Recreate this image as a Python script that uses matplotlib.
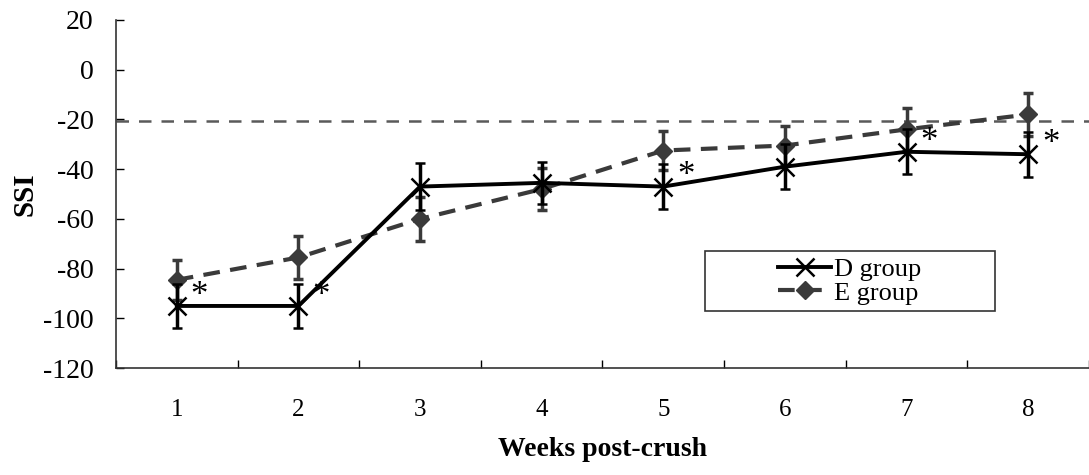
import numpy as np
import matplotlib
matplotlib.use("Agg")
import matplotlib.pyplot as plt
from matplotlib.patches import Rectangle
from matplotlib.lines import Line2D

plt.rcParams['font.family'] = ['Liberation Serif', 'DejaVu Serif']
plt.rcParams['axes.unicode_minus'] = False

# data
weeks = [1, 2, 3, 4, 5, 6, 7, 8]
d_mean = [-95, -95, -47, -45.5, -47, -39, -33, -34]
d_err = [9, 9, 9.5, 8.5, 9, 9, 9, 9]
e_mean = [-84.5, -75.5, -60, -48, -32.5, -30.5, -24, -18]
e_err = [8, 8.5, 9, 8.5, 8, 8, 8.5, 8.5]
ref_level = -20.5
star_weeks = [1, 2, 5, 7, 8]

d_style = dict(color='black', ls='-', lw=2.8, marker='x', ms=13, mew=1.8)
e_style = dict(color='#3a3a3a', ls=(0, (4, 2.5)), lw=3, marker='D', ms=9)

fig = plt.figure(figsize=(10.89, 4.75), dpi=100)
ax = fig.add_axes([0.1065, 0.225, 0.8935, 0.733])

ax.axhline(ref_level, color='#5a5a5a', ls=(0, (5, 4)), lw=1.8, zorder=1)

ax.errorbar(weeks, e_mean, yerr=e_err, capsize=3.5, elinewidth=2.5, capthick=2.5,
            zorder=2, **e_style)
ax.errorbar(weeks, d_mean, yerr=d_err, capsize=3.5, elinewidth=2.5, capthick=2.5,
            zorder=3, **d_style)

for w in star_weeks:
    i = weeks.index(w)
    ax.annotate('*', (w, d_mean[i]), xytext=(10, 7), textcoords='offset points',
                fontsize=25, ha='left', va='center')

ax.set_xlim(0.5, 8.5)
ax.set_ylim(-120, 20)
ax.set_yticks(np.arange(-120, 21, 20))
ax.set_xticks(weeks)
ax.set_xticks(np.arange(0.5, 8.6, 1), minor=True)
ax.tick_params(axis='x', which='major', length=0, pad=22, labelsize=18)
ax.tick_params(axis='x', which='minor', direction='in', length=6, width=1)
ax.tick_params(axis='y', direction='in', length=6, width=1, labelsize=20, pad=16)
for s in ['top', 'right']:
    ax.spines[s].set_visible(False)
for s in ['left', 'bottom']:
    ax.spines[s].set_linewidth(1.2)
    ax.spines[s].set_color('#333333')

ax.set_xlabel('Weeks post-crush', fontsize=20, fontweight='bold', labelpad=12)
ax.set_ylabel('SSI', fontsize=21, fontweight='bold', labelpad=3)

# legend box is wider than its content, so draw the frame separately
ax.add_patch(Rectangle((0.605, 0.164), 0.298, 0.172, transform=ax.transAxes,
                       fill=False, ec='#333333', lw=1.2, zorder=4))
handles = [Line2D([], [], **d_style), Line2D([], [], **e_style)]
ax.legend(handles, ['D group', 'E group'], loc='center', bbox_to_anchor=(0.754, 0.25),
          fontsize=19, frameon=False, handlelength=2.0, handletextpad=0.1,
          borderpad=0.1, labelspacing=0.0)

fig.savefig('out.png', dpi=100)
